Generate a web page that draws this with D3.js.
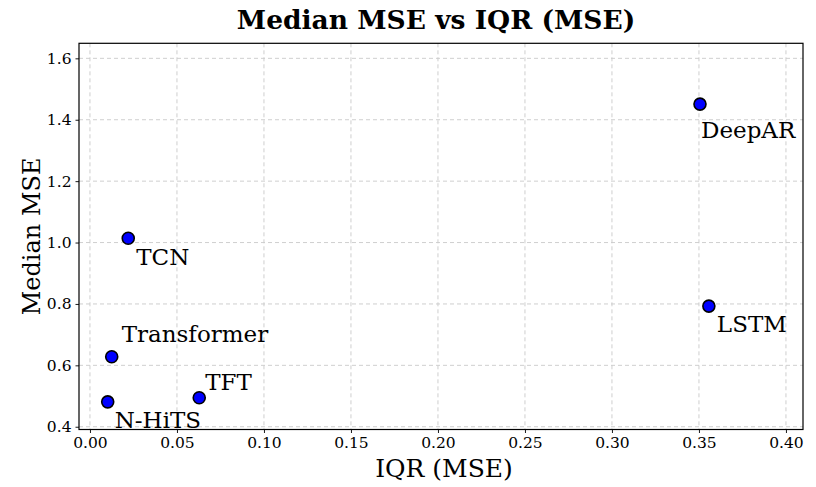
<!DOCTYPE html>
<html>
<head>
<meta charset="utf-8">
<script src="https://cdn.jsdelivr.net/npm/d3@7"></script>
<style>
  html, body { margin: 0; padding: 0; background: #fff; }
  svg { display: block; }
  text { font-family: "DejaVu Serif", serif; fill: #000; }
</style>
</head>
<body>
<svg id="chart" width="816" height="487"></svg>
<script>
// ---- data ----
const models = ["DeepAR", "LSTM", "TCN", "Transformer", "N-HiTS", "TFT"];
const iqrValues = [0.3506, 0.3557, 0.0220, 0.0125, 0.0102, 0.0628];
const medianValues = [1.451, 0.793, 1.014, 0.628, 0.481, 0.4945];
const xTicks = [0.00, 0.05, 0.10, 0.15, 0.20, 0.25, 0.30, 0.35, 0.40];
const yTicks = [0.4, 0.6, 0.8, 1.0, 1.2, 1.4, 1.6];

// ---- layout / label offsets (presentation only) ----
const labelOffsets = {
  "DeepAR": [1, 34], "LSTM": [8, 26], "TCN": [8, 27],
  "Transformer": [10, -15], "N-HiTS": [7, 26], "TFT": [6, -8]
};

const svg = d3.select("#chart");
const pL = 79, pR = 803, pT = 43.3, pB = 429.5;

const x = d3.scaleLinear().domain([-0.0063, 0.4098]).range([pL, pR]);
const y = d3.scaleLinear().domain([0.391, 1.649]).range([pB, pT]);

// grid
const grid = svg.append("g");
grid.selectAll("line.gx").data(xTicks).join("line")
  .attr("x1", d => x(d)).attr("x2", d => x(d))
  .attr("y1", pT).attr("y2", pB)
  .attr("stroke", "#c9c9c9").attr("stroke-width", 0.9).attr("stroke-dasharray", "4,3");
grid.selectAll("line.gy").data(yTicks).join("line")
  .attr("y1", d => y(d)).attr("y2", d => y(d))
  .attr("x1", pL).attr("x2", pR)
  .attr("stroke", "#c9c9c9").attr("stroke-width", 0.9).attr("stroke-dasharray", "4,3");

// axes
const xAxis = d3.axisBottom(x).tickValues(xTicks).tickFormat(d3.format(".2f"))
  .tickSize(3.5).tickPadding(4);
const yAxis = d3.axisLeft(y).tickValues(yTicks).tickFormat(d3.format(".1f"))
  .tickSize(3.5).tickPadding(4);

const gx = svg.append("g").attr("transform", `translate(0,${pB})`).call(xAxis);
const gy = svg.append("g").attr("transform", `translate(${pL},0)`).call(yAxis);
[gx, gy].forEach(g => {
  g.select(".domain").remove();
  g.selectAll(".tick line").attr("stroke", "#000").attr("stroke-width", 0.9);
  g.selectAll(".tick text").attr("font-family", "DejaVu Serif").attr("font-size", 15.5).attr("fill", "#000");
});

// frame
svg.append("rect").attr("x", pL).attr("y", pT)
  .attr("width", pR - pL).attr("height", pB - pT)
  .attr("fill", "none").attr("stroke", "#000").attr("stroke-width", 1.2);

// points
const pts = models.map((m, i) => ({ m, xv: iqrValues[i], yv: medianValues[i] }));
svg.append("g").selectAll("circle").data(pts).join("circle")
  .attr("cx", d => x(d.xv)).attr("cy", d => y(d.yv)).attr("r", 6)
  .attr("fill", "#0000ff").attr("stroke", "#000").attr("stroke-width", 1.6);

// labels
svg.append("g").selectAll("text").data(pts).join("text")
  .attr("x", d => x(d.xv) + labelOffsets[d.m][0])
  .attr("y", d => y(d.yv) + labelOffsets[d.m][1])
  .attr("font-size", 23)
  .text(d => d.m);

// title
svg.append("text").attr("x", (pL + pR) / 2 - 5).attr("y", 29)
  .attr("text-anchor", "middle").attr("font-size", 26.5).attr("font-weight", "bold")
  .text("Median MSE vs IQR (MSE)");

// axis labels
svg.append("text").attr("x", (pL + pR) / 2 + 3).attr("y", 477)
  .attr("text-anchor", "middle").attr("font-size", 25)
  .text("IQR (MSE)");
svg.append("text").attr("transform", `translate(40,${(pT + pB) / 2}) rotate(-90)`)
  .attr("text-anchor", "middle").attr("font-size", 24)
  .text("Median MSE");
</script>
</body>
</html>
